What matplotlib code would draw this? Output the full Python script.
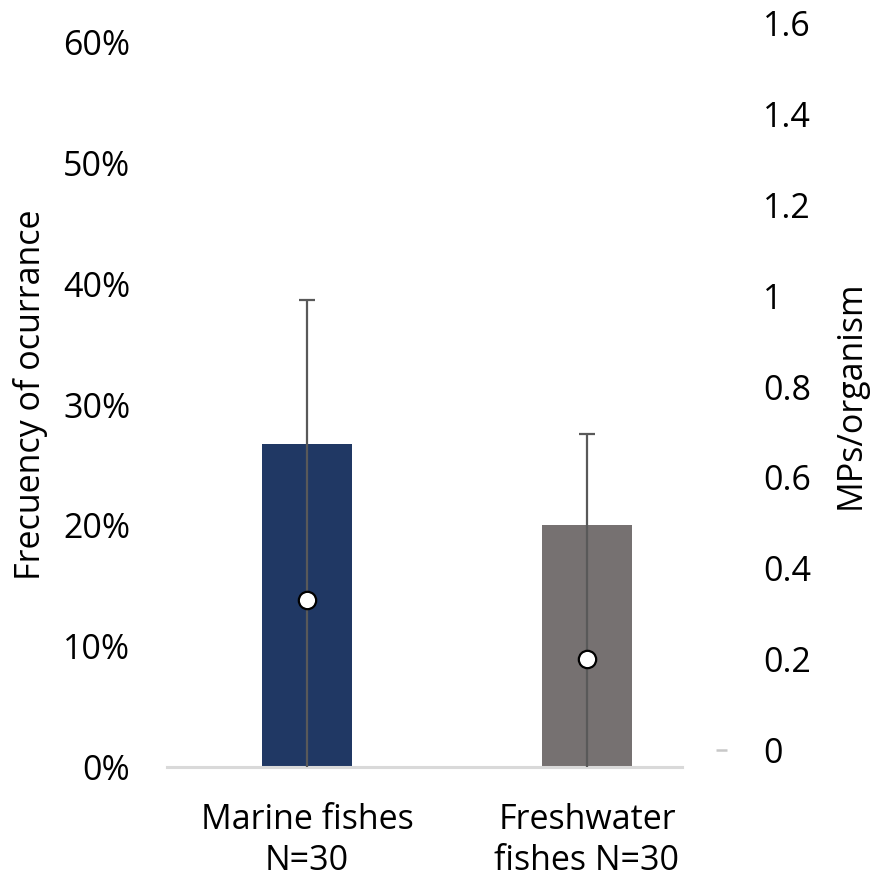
import matplotlib
matplotlib.use("Agg")
import matplotlib.pyplot as plt
from matplotlib.ticker import PercentFormatter, FixedLocator

categories = ["Marine fishes\nN=30", "Freshwater\nfishes N=30"]
frequency = [0.267, 0.20]          # left axis (frequency of occurrence)
mps_mean = [0.33, 0.20]            # right axis (MPs/organism)
mps_err = [0.66, 0.495]
bar_colors = ["#203864", "#767171"]
left_ticks = [0, 0.1, 0.2, 0.3, 0.4, 0.5, 0.6]
right_ticks = [0, 0.2, 0.4, 0.6, 0.8, 1.0, 1.2, 1.4, 1.6]
right_labels = ["0", "0.2", "0.4", "0.6", "0.8", "1", "1.2", "1.4", "1.6"]

plt.rcParams['font.family'] = ['Open Sans', 'DejaVu Sans']
FS = 24.5

fig = plt.figure(figsize=(8.79, 8.83), dpi=100)
ax = fig.add_axes([167/879, 1 - 767/883, (727 - 167)/879, (767 - 23)/883])
x = list(range(len(categories)))
ax.bar(x, frequency, width=0.318, color=bar_colors, zorder=2)
ax.set_xlim(-0.5, 1.5)
ax.set_ylim(0, 0.6159)
ax.yaxis.set_major_locator(FixedLocator(left_ticks))
ax.yaxis.set_major_formatter(PercentFormatter(1.0, decimals=0))
for s in ax.spines.values():
    s.set_visible(False)
ax.plot([-0.5, 1.34], [0, 0], color="#d9d9d9", lw=2.2, clip_on=False, zorder=3)
ax.tick_params(axis='y', length=0, pad=26.5, labelsize=FS)
ax.tick_params(axis='x', length=0, pad=26, labelsize=FS)
ax.set_xticks(x)
ax.set_xticklabels(categories, linespacing=1.28)
ax.set_ylabel("Frecuency of ocurrance", fontsize=FS, labelpad=11)

ax2 = ax.twinx()
ax2.set_ylim(-0.0374, 1.6)
for s in ax2.spines.values():
    s.set_visible(False)
ax2.errorbar(x, mps_mean, yerr=mps_err, fmt='o', color="#595959", ecolor="#595959",
             elinewidth=1.6, capsize=6, capthick=1.6, markersize=12.5,
             markerfacecolor="white", markeredgecolor="black", markeredgewidth=1.6, zorder=4)
ax2.set_yticks(right_ticks)
ax2.set_yticklabels(right_labels)
ax2.tick_params(axis='y', which='major', length=0, pad=26, labelsize=FS)
ax2.yaxis.remove_overlapping_locs = False
ax2.yaxis.set_minor_locator(FixedLocator([0]))
ax2.tick_params(axis='y', which='minor', length=8, width=1.8, color="#c8c8c8",
                direction='in', labelright=False, right=True)
ax2.set_ylabel("MPs/organism", fontsize=FS, labelpad=16)

fig.savefig("out.png", dpi=100)
